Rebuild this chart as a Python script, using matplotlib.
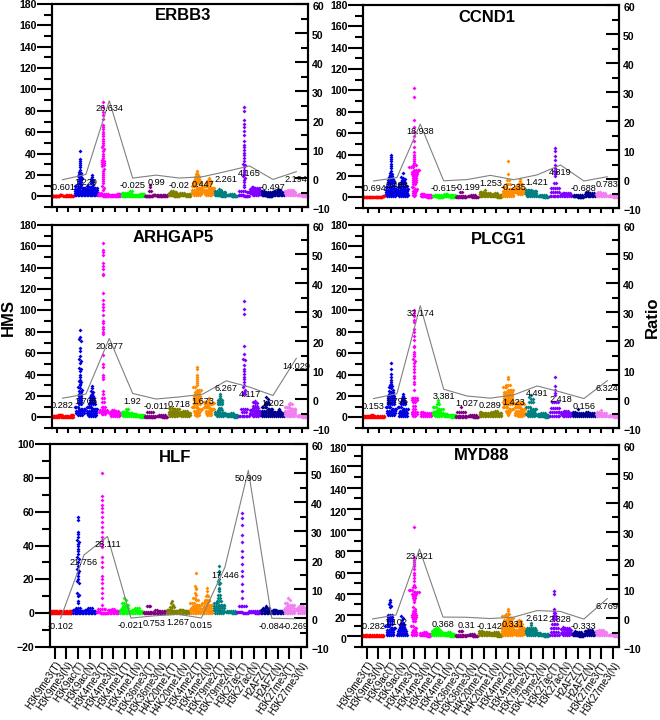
import numpy as np
import matplotlib
matplotlib.use("Agg")
import matplotlib.pyplot as plt
from matplotlib.ticker import MultipleLocator
from matplotlib.transforms import ScaledTranslation

plt.rcParams['font.family'] = ['Liberation Sans', 'DejaVu Sans']

marks = ['H3K9me3', 'H3K9ac', 'H3K4me3', 'H3K4me1', 'H3K36me3', 'H4K20me1',
         'H3K4me2', 'H3K79me2', 'H3K27ac', 'H2AFZ', 'H3K27me3']
categories = [m + s for m in marks for s in ('(T)', '(N)')]
colors = ['#ff0000', '#0000e0', '#ff00ff', '#00ff00', '#800080', '#808000',
          '#ff8c00', '#008080', '#8000ff', '#000090', '#f080f0']

# ratio labels, one per T/N pair
erbb3_ratio = [-0.601, 1.229, 26.634, -0.025, 0.99, -0.02, 0.447, 2.261, 4.165, -0.497, 2.194]
ccnd1_ratio = [-0.694, 0.488, 18.938, -0.615, -0.199, 1.253, -0.235, 1.421, 4.819, -0.688, 0.783]
arhgap5_ratio = [0.282, 1.705, 20.877, 1.92, -0.011, 0.718, 1.673, 6.267, 4.117, 1.202, 14.029]
plcg1_ratio = [0.153, 1.795, 32.174, 3.381, 1.027, 0.289, 1.423, 4.491, 2.418, 0.156, 6.324]
hlf_ratio = [-0.102, 21.756, 28.111, -0.021, 0.753, 1.267, 0.015, 17.446, 50.909, -0.084, -0.269]
myd88_ratio = [-0.282, 1.102, 23.921, 0.368, 0.31, -0.142, 0.331, 2.612, 2.328, -0.333, 6.769]

# HMS values, one list per category
erbb3_hms = [
    [0.5]*18+[1]*6, [0.5]*14+[1.5]*4,
    [42,35,33,31,29,27,25,23,22,21,20,19,18,17,16,15,14,13,12,11]+[10]*3+[9]*3+[8]*3+[7]*3+[6]*4+[5]*4+[4]*5+[3]*6+[2]*6+[1]*8,
    [20,18,16,15,14,13,12,11]+[10]*2+[9]*3+[8]*3+[7]*3+[6]*4+[5]*5+[4]*5+[3]*6+[2]*6+[1]*8,
    [88,84,79,76,72,67,65,63,60,58,56,54,52,50,48,46,44,42,40,38,36,34,33,32,31,30,29,28,26,24,22,20,18,16,14,12,10,8,6]+[3]*2+[2]*4+[1]*6+[0.5]*8,
    [0.5]*12+[1.5]*10+[2.5]*5,
    [0.5]*12+[1.5]*10+[2.5]*8+[3.5]*5+[5]*2, [0.5]*12+[1.5]*8+[2.5]*5,
    [11,9,5,5]+[0.5]*14+[1]*6, [0.5]*12+[1.5]*8,
    [5,5,4,4]+[3]*5+[2]*6+[1]*8+[0.5]*8, [3]*3+[2]*4+[1]*8+[0.5]*6,
    [24,22,21,20]+[18]*3+[16]*3+[14]*4+[12]*5+[10]*5+[8]*6+[6]*6+[4]*6+[2]*5+[1]*4,
    [17,16]+[14]*3+[12]*4+[10]*6+[8]*6+[6]*6+[4]*6+[2]*5+[1]*4,
    [7,6,5,5]+[4]*5+[3]*7+[2]*8+[1]*8+[0.5]*6, [2]*3+[1]*8+[0.5]*10,
    [84,80,71,68,65,61,57,52,48,46,43,41,39,36,33,30,29,27,25,23,21,19,17,15,13,11,9]+[5]*4+[4]*2+[1]*8+[0.5]*8,
    [9]*2+[8]*3+[7]*4+[6]*5+[5]*6+[4]*7+[3]*7+[2]*6+[1]*4,
    [5]*2+[4]*4+[3]*6+[2]*8+[1]*8+[0.5]*8, [7,6]+[5]*3+[4]*4+[3]*6+[2]*8+[1]*8,
    [6]*4+[5]*5+[4]*6+[3]*6+[2]*6+[1]*6, [2]*4+[1]*10+[0.5]*10,
]
ccnd1_hms = [
    [0.5]*18, [0.5]*14+[1]*4,
    [40,38,36,34,31,29,27,25,23,22,21,20,19,18,17]+[16]*2+[15]*2+[14]*2+[13]*2+[12]*2+[11]*2+[10]*3+[9]*3+[8]*3+[7]*3+[6]*3+[5]*4+[4]*4+[3]*4+[2]*4+[1]*5,
    [23,19,18,17,16,15,14]+[13]*2+[12]*2+[11]*3+[10]*3+[9]*3+[8]*3+[7]*3+[6]*3+[5]*3+[4]*3+[3]*3+[2]*4+[1]*5,
    [102,94,72,66,61,57,53,47,42,40,38,36,34,32]+[30]*3+[28]*3+[26]*4+[24]*4+[22]*4+[20]*3+[18]*3+[16]*3+[14]*3+[12]*2+[10]*2+[8]*2+[6]*3+[4]*2+[2]*2+[1],
    [3]*4+[2]*8+[1]*10+[0.5]*8,
    [2]*4+[1]*8+[0.5]*10, [3]*3+[2]*6+[1]*8+[0.5]*8,
    [5,5]+[1.5]*5+[0.5]*14, [2]*3+[1]*6+[0.5]*8,
    [7]+[5]*3+[4]*4+[3]*6+[2]*6+[1]*8, [4]*2+[3]*3+[2]*5+[1]*6+[0.5]*6,
    [34,22,16,16]+[12]*3+[10]*3+[8]*5+[6]*8+[4]*8+[2]*8+[1]*6,
    [17,15,13]+[12]*3+[10]*5+[9]*6+[8]*7+[7]*8+[6]*7+[5]*6+[4]*5+[3]*3,
    [7]*4+[6]*4+[5]*4+[4]*4+[3]*6+[2]*7+[1]*6, [2]*4+[1]*8+[0.5]*8,
    [46,43,39,35,30,27,25,24,22,20,13,13]+[9]*5+[5]*5+[1]*8,
    [4]*5+[3]*8+[2]*8+[1]*6,
    [2]*5+[1]*8+[0.5]*10, [5]*2+[4]*3+[3]*5+[2]*7+[1]*8,
    [5]*2+[4]*3+[3]*5+[2]*6+[1]*6, [2]*4+[1]*6+[0.5]*8,
]
arhgap5_hms = [
    [0.5]*10+[1.5]*10+[2.5]*6, [0.5]*12+[1.5]*6+[2.5]*3,
    [82,75,73,71,65,62,57,55,53,51,46,45,43,40,38,35,34,33,31,30,28,27,26,25,24]+[22]*2+[20]*2+[18]*2+[16]*2+[14]*2+[12]*2+[10]*3+[8]*5+[6]*5+[4]*5+[2]*3,
    [29,27,25,24,22,21,20,19]+[18]*2+[16]*3+[14]*3+[12]*4+[10]*5+[8]*6+[6]*6+[4]*6+[2]*5+[1]*4,
    [163,157,155,152,144,142,139,134,133,116,110,106,103,100,96,90,88,85,83,80,78,58,50,47,40,38,36,25,22]+[18]*2+[14]*2+[10]*3+[7]*5+[5]*6+[3]*3,
    [7]*2+[6]*2+[5]*5+[4]*7+[3]*7+[2]*7+[1]*5,
    [8,8,7]+[5]*4+[4]*5+[3]*6+[2]*7+[1]*5, [3]*4+[2]*8+[1]*8+[0.5]*5,
    [5]*4+[1.5]*6+[0.5]*12, [2]*4+[1]*8+[0.5]*8,
    [9]*3+[8]*4+[6]*5+[5]*5+[4]*6+[3]*6+[2]*6+[1]*5, [6]*3+[5]*4+[4]*5+[3]*5+[2]*6+[1]*5,
    [47,45,40,38,36,34,32,30]+[28]*2+[26]*3+[24]*3+[22]*3+[20]*4+[18]*4+[16]*4+[14]*3+[12]*4+[10]*5+[8]*4+[6]*4+[4]*3+[2]*3+[1],
    [18,16]+[14]*3+[13]*4+[12]*5+[10]*6+[8]*5+[6]*4+[4]*4+[2]*3,
    [22,20,18]+[16]*3+[14]*3+[12]*3+[9]*2+[7]*3+[5]*4+[4]*5+[3]*7+[2]*6+[1]*4,
    [4]*2+[3]*4+[2]*7+[1]*7+[0.5]*4,
    [109,101,97,67,59,55,54,49,45,43,41,38,36,33,30,28,26,24,22,22]+[8]*4+[5]*3+[1]*8,
    [15,14,13,13]+[11]*3+[9]*4+[7]*5+[6]*6+[4]*7+[3]*6+[2]*6+[1]*4,
    [19,17,14,14]+[12]*3+[10]*4+[8]*4+[6]*6+[4]*8+[2]*8+[1]*6, [8]+[6]*2+[5]*3+[4]*5+[3]*6+[2]*6+[1]*6,
    [13]+[12]*3+[10]*6+[8]*8+[6]*9+[4]*9+[2]*8+[1]*5, [2]*4+[1]*8+[0.5]*8,
]
plcg1_hms = [
    [0.5]*12+[1.5]*8+[2.5]*3, [0.5]*12+[1.5]*6,
    [51,45,41,38,35,33,31,30,29,28,27,26,25]+[24]*2+[22]*3+[20]*4+[18]*4+[16]*4+[14]*4+[12]*4+[10]*4+[8]*4+[6]*5+[4]*5+[2]*4,
    [22,20]+[18]*2+[16]*2+[14]*3+[12]*3+[10]*3+[8]*4+[6]*4+[4]*5+[2]*4+[1]*5,
    [100,98,95,91,89,83,80,76,72,67,66,61,59,57,55,53,51,48,45,42,39,37,33,31,26]+[18]*4+[16]*4+[14]*2+[11]*2+[8]*2+[5]*4+[3]*4+[1]*2,
    [5]*2+[4]*4+[3]*6+[2]*7+[1]*6,
    [16,14]+[12]*2+[10]*3+[8]*4+[6]*3+[5]*3+[4]*5+[3]*5+[2]*5+[1]*4, [3]*4+[2]*7+[1]*8+[0.5]*5,
    [10]+[5]*5+[1.5]*8+[0.5]*8, [2]*4+[1]*8+[0.5]*8,
    [5]*2+[4]*5+[3]*6+[2]*6+[1]*7, [6]*2+[5]*3+[4]*4+[3]*5+[2]*6+[1]*6,
    [38,36]+[30]*3+[28]*3+[26]*4+[24]*5+[22]*5+[20]*5+[18]*5+[16]*5+[14]*6+[12]*5+[10]*4+[8]*4+[6]*3+[4]*2+[2],
    [14]*4+[12]*6+[10]*6+[8]*4+[6]*5+[4]*7+[2]*6+[1]*3,
    [21,19,17,17]+[14]*3+[10]*3+[8]*4+[6]*4+[4]*5+[3]*6+[2]*6+[1]*4, [4]*3+[3]*4+[2]*7+[1]*7+[0.5]*4,
    [38,29,26,23,21]+[14]*4+[9]*5+[5]*6+[1]*6, [6]*3+[5]*4+[4]*5+[3]*6+[2]*6+[1]*5,
    [8]+[5]*2+[4]*4+[3]*5+[2]*7+[1]*6, [5]*2+[4]*3+[3]*5+[2]*7+[1]*6,
    [7]+[5]*2+[4]*4+[3]*5+[2]*6+[1]*6, [2]*4+[1]*7+[0.5]*7,
]
hlf_hms = [
    [0.3]*12+[1]*10, [0.3]*12+[1]*8,
    [57,55,48,47,45,43,42,41,40,38,37,35,33,32,30,28,26,25,24,22,20,19,18,12,11,10,7,6]+[3]*3+[2]*6+[1]*8+[0.3]*8,
    [3]*3+[2]*5+[1]*8+[0.3]*8,
    [83,69,67,64,62,60,57,54,51,48,45,43,41,39,33,30,27,22,20,18,15,12,9,5]+[2.7]*5+[0.7]*6+[0.2]*10,
    [2.5]*2+[2]*5+[1]*7+[0.3]*8,
    [9,8,6,6,5,5]+[4]*3+[3]*4+[2]*6+[1]*7+[0.3]*8, [3]*3+[2]*5+[1]*7+[0.3]*7,
    [4.5]*3+[0.8]*6+[0.2]*10, [2]*2+[1.2]*5+[0.3]*8,
    [7,6,5]+[3.5]*3+[2]*7+[1]*8+[0.3]*8, [2]*6+[1]*8+[0.3]*8,
    [24,16,15,14,12,11,9,9,8,8]+[6]*3+[5]*4+[4]*4+[3]*6+[2]*5+[1]*5+[0.3]*6,
    [15,13,11,10,10]+[8]*3+[7]*3+[6]*4+[5]*4+[4]*4+[3]*5+[2]*6+[1]*6+[0.3]*6,
    [28,25,23,20,19,18,17,15,14,13,11,11,9,9]+[7]*3+[6]*3+[5]*4+[4]*6+[3]*6+[2]*7+[1]*7+[0.3]*5,
    [1.2]*5+[0.6]*7+[0.2]*5,
    [59,56,52,46,42,37,33,29,25,22,17,13,9]+[4.5]*5+[0.7]*6+[0.2]*6, [1]*6+[0.5]*8+[0.2]*6,
    [4]+[3]*4+[2]*7+[1.2]*9+[0.3]*8, [2]*5+[1.2]*7+[0.3]*8,
    [9,8,6,6]+[5]*4+[4]*4+[3]*6+[2]*7+[1]*6+[0.3]*6, [4]*3+[3]*5+[2]*8+[1]*7+[0.3]*4,
]
myd88_hms = [
    [0.5]*14+[1.2]*8, [0.5]*12+[1.2]*6,
    [34,32,30,29,28]+[20]*3+[18]*3+[16]*3+[14]*3+[12]*3+[10]*4+[8]*4+[6]*4+[4]*4+[2]*4+[1]*4,
    [19,17,15,13,13]+[11]*3+[9]*3+[7]*4+[5]*5+[3]*5+[1]*6,
    [103,75,72,70,68,66,63,60,58,55,52,48,46,46]+[44]*3+[42]*4+[40]*3+[38]*2+[36]*2+[34,32,28,26,24,24,22,22]+[20]*3+[18]*3+[16]*2+[14]*2+[10]*2+[8]*2+[6]*2+[4]*3+[2]*3+[1]*3,
    [4]*2+[3]*4+[2]*5+[1]*7+[0.5]*5,
    [8,8,7,7,6,6]+[5]*3+[4]*4+[3]*5+[2]*6+[1]*6, [4]*2+[3]*4+[2]*6+[1]*7+[0.5]*5,
    [5]*3+[1.5]*6+[0.5]*10, [2]*3+[1]*7+[0.5]*7,
    [5]*3+[4]*4+[3]*5+[2]*6+[1]*7, [4]*3+[3]*3+[2]*5+[1]*6+[0.5]*5,
    [26,24]+[21]*3+[19]*4+[17]*4+[15]*5+[13]*6+[11]*6+[9]*7+[7]*7+[5]*7+[3]*7+[1]*6,
    [15]+[14]*3+[12]*4+[10]*6+[8]*6+[6]*7+[4]*7+[2]*7+[1]*4,
    [13,11]+[8]*5+[6]*6+[5]*6+[4]*7+[3]*7+[2]*7+[1]*5, [3]*3+[2]*6+[1]*8+[0.5]*6,
    [43,40,26,24,22,22]+[19]*3+[16]*3+[12]*4+[8]*5+[4]*5+[1]*6,
    [9]+[8]*3+[7]*4+[6]*4+[4]*5+[3]*6+[2]*6+[1]*4,
    [5]+[4]*3+[3]*5+[2]*6+[1]*7+[0.5]*5, [6]*3+[5]*4+[4]*4+[3]*5+[2]*6+[1]*6,
    [6]*3+[5]*5+[4]*6+[3]*6+[2]*6+[1]*6, [2]*3+[1]*7+[0.5]*7,
]

W, H = 660, 720


def swarm(vals, px_per_unit, px_per_cat):
    # same-height points are spread sideways around the column centre
    vals = np.asarray(vals, dtype=float)
    bins = np.round(vals * px_per_unit / 2.4).astype(int)
    off = np.zeros(len(vals))
    for b in np.unique(bins):
        idx = np.where(bins == b)[0]
        n = len(idx)
        if n > 1:
            d = min(1.9 / px_per_cat, 0.86 / (n - 1))
            off[idx] = (np.arange(n) - (n - 1) / 2) * d
    return off


def panel(title, hms, ratio, box, tx, ty, ylim, major, bottom_len=5,
          labels=False, left_shift=0):
    left, top, right, bottom = box
    rect = [left / W, 1 - bottom / H, (right - left) / W, (bottom - top) / H]
    ax = fig.add_axes(rect)
    ax2 = ax.twinx()
    ax.set_xlim(-0.4, 21.5)
    ax.set_ylim(*ylim)
    ax2.set_ylim(-10, 60)
    ppu = (bottom - top) / (ylim[1] - ylim[0])
    ppc = (right - left) / 21.9
    for i, vals in enumerate(hms):
        x = i + swarm(vals, ppu, ppc)
        ax.scatter(x, vals, s=4, marker='D', color=colors[i // 2], linewidths=0,
                   clip_on=False, zorder=3)
    xs = np.arange(len(ratio)) * 2 + 0.5
    ax2.plot(xs, ratio, color='#808080', lw=0.8, zorder=4)
    for x, r in zip(xs, ratio):
        ax2.annotate(str(r), (x, r), xytext=(0, -5.6), textcoords='offset points',
                     ha='center', va='center', fontsize=6.6, color='black',
                     annotation_clip=False, zorder=5)
    for a in (ax, ax2):
        for s in a.spines.values():
            s.set_linewidth(1.5)
    ax.yaxis.set_major_locator(MultipleLocator(major))
    ax.yaxis.set_minor_locator(MultipleLocator(major / 2))
    ax.tick_params(axis='y', which='major', direction='out', length=10.5, width=1.5,
                   pad=0.5, labelsize=7.6)
    ax.tick_params(axis='y', which='minor', direction='out', length=5.5, width=1.5)
    ax2.yaxis.set_major_locator(MultipleLocator(10))
    ax2.yaxis.set_minor_locator(MultipleLocator(5))
    ax2.tick_params(axis='y', which='major', direction='in', length=9.5, width=1.5,
                    pad=3, labelsize=7.6)
    ax2.tick_params(axis='y', which='minor', direction='in', length=5, width=1.5)
    ax.set_xticks(range(len(categories)))
    ax.tick_params(axis='x', direction='out', length=bottom_len * 0.72, width=1.5, pad=0.5)
    if labels:
        ax.set_xticklabels(categories, rotation=56, ha='right', va='top',
                           rotation_mode='anchor', fontsize=7.0)
    else:
        ax.set_xticklabels([])
    # tick labels sit a little under their ticks in the original
    for t in ax2.get_yticklabels():
        t.set_fontweight('bold')
        t.set_transform(t.get_transform() + ScaledTranslation(0, -1.5 / 72, fig.dpi_scale_trans))
    for t in ax.get_yticklabels():
        t.set_fontweight('bold')
        if left_shift:
            t.set_transform(t.get_transform() + ScaledTranslation(0, -left_shift / 72, fig.dpi_scale_trans))
    fig.text(tx / W, 1 - ty / H, title, fontsize=12, fontweight='bold',
             ha='center', va='center')


fig = plt.figure(figsize=(6.6, 7.2), dpi=100)
panel('ERBB3', erbb3_hms, erbb3_ratio, (52, 4, 308, 207), 183, 16, (-10, 180), 20)
panel('CCND1', ccnd1_hms, ccnd1_ratio, (363, 5, 619, 208), 487, 17, (-10, 180), 20)
panel('ARHGAP5', arhgap5_hms, arhgap5_ratio, (52, 225, 308, 428), 173, 238, (-10, 180), 20)
panel('PLCG1', plcg1_hms, plcg1_ratio, (363, 225, 619, 428), 499, 240, (-10, 180), 20)
panel('HLF', hlf_hms, hlf_ratio, (50, 444, 307, 647), 175, 457, (-20, 100), 20,
      bottom_len=12, labels=True)
panel('MYD88', myd88_hms, myd88_ratio, (362, 445, 619, 647), 482, 456, (-10, 180), 20,
      bottom_len=12, labels=True, left_shift=2)
fig.text(8 / W, 1 - 318 / H, 'HMS', rotation=90, fontsize=12, fontweight='bold',
         ha='center', va='center')
fig.text(652 / W, 1 - 317 / H, 'Ratio', rotation=90, fontsize=12, fontweight='bold',
         ha='center', va='center')
fig.savefig('out.png', dpi=100)
